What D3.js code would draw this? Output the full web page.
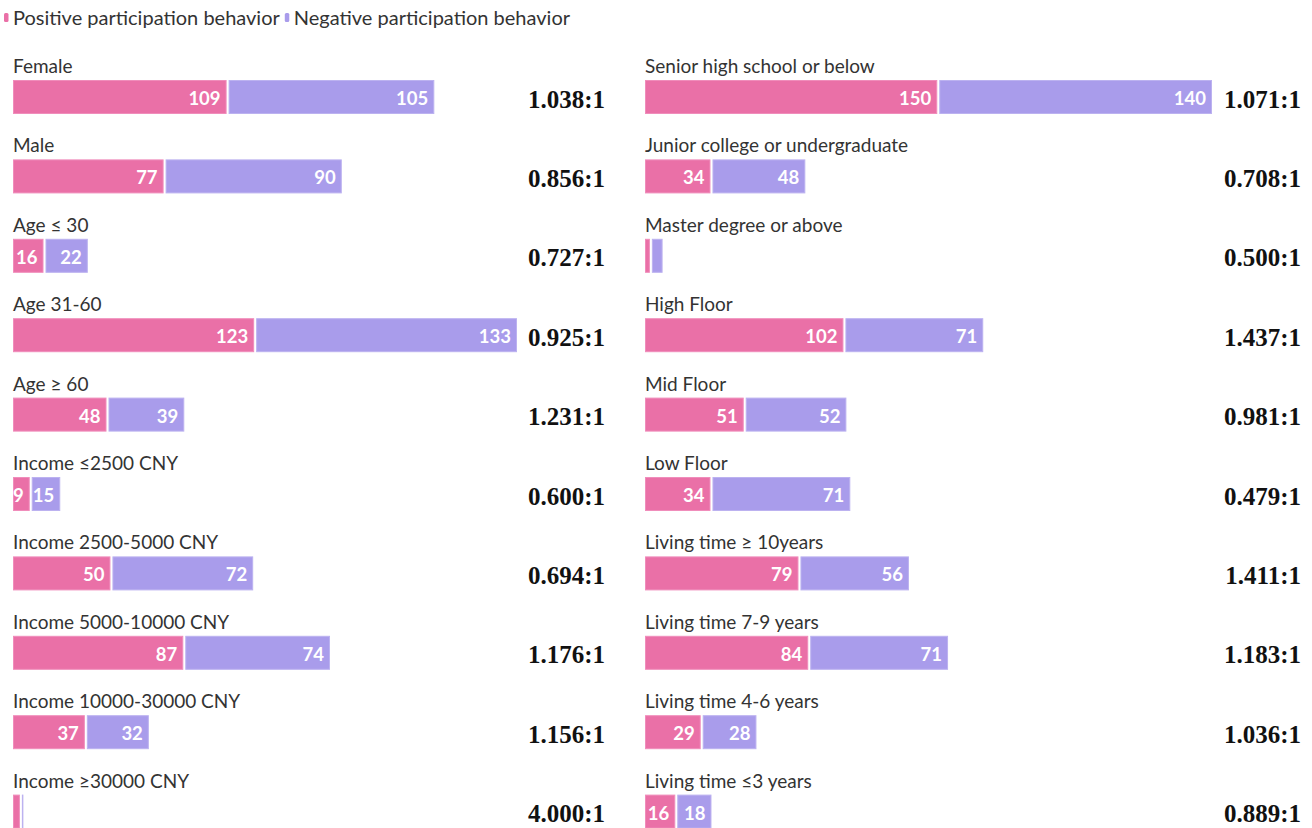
<!DOCTYPE html>
<html>
<head>
<meta charset="utf-8">
<script src="https://cdn.jsdelivr.net/npm/d3@7"></script>
<style>
  html, body { margin: 0; padding: 0; background: #fff; }
  svg { display: block; }
</style>
</head>
<body>
<svg id="chart" width="1312" height="828"></svg>
<script>
// ---- data ----
const seriesNames = ["Positive participation behavior", "Negative participation behavior"];

const leftCategories = ["Female", "Male", "Age ≤ 30", "Age 31-60", "Age ≥ 60",
  "Income ≤2500 CNY", "Income 2500-5000 CNY", "Income 5000-10000 CNY",
  "Income 10000-30000 CNY", "Income ≥30000 CNY"];
const leftPositive = [109, 77, 16, 123, 48, 9, 50, 87, 37, 4];
const leftNegative = [105, 90, 22, 133, 39, 15, 72, 74, 32, 1];

const rightCategories = ["Senior high school or below", "Junior college or undergraduate",
  "Master degree or above", "High Floor", "Mid Floor", "Low Floor",
  "Living time ≥ 10years", "Living time 7-9 years", "Living time 4-6 years",
  "Living time ≤3 years"];
const rightPositive = [150, 34, 3, 102, 51, 34, 79, 84, 29, 16];
const rightNegative = [140, 48, 6, 71, 52, 71, 56, 71, 28, 18];

// ---- styles ----
const colors = ["#EA70A7", "#A99CEB"];
const strokeColors = ["#F08DBB", "#BCB2F0"];
const labelFont = "Lato, 'Open Sans', sans-serif";
const ratioFont = "'Liberation Serif', 'Times New Roman', serif";
const labelSize = 19;

const svg = d3.select("#chart");

// legend
const legend = svg.append("g");
let lx = 4;
seriesNames.forEach((name, i) => {
  legend.append("rect").attr("x", lx).attr("y", 13).attr("width", 4.5).attr("height", 9)
    .attr("rx", 1.5).attr("fill", colors[i]);
  const t = legend.append("text").attr("x", lx + 9).attr("y", 25)
    .attr("font-family", labelFont).attr("font-size", 20).attr("fill", "#333")
    .text(name);
  lx += 9 + t.node().getComputedTextLength() + 5;
});

function panel(cats, pos, neg, xRange, xMax, ratioX) {
  const x = d3.scaleLinear().domain([0, xMax]).range(xRange);
  const y = d3.scaleBand().domain(cats).range([48, 48 + 79.4 * cats.length]).paddingInner(0);
  const rows = cats.map((c, i) => ({ c, p: pos[i], n: neg[i] }));
  const g = svg.append("g");
  const row = g.selectAll("g.row").data(rows).join("g").attr("class", "row");

  row.append("text")
    .attr("x", x(0)).attr("y", d => y(d.c) + 25)
    .attr("font-family", labelFont).attr("font-size", labelSize).attr("fill", "#333")
    .text(d => d.c);

  const barTop = d => y(d.c) + 32;
  const barH = 34;

  row.each(function(d) {
    const r = d3.select(this);
    const segs = [
      { v: d.p, x0: x(0), x1: x(d.p), k: 0 },
      { v: d.n, x0: x(d.p), x1: x(d.p + d.n), k: 1 }
    ];
    segs.forEach(s => {
      const left = s.x0 + (s.k === 1 ? 1 : 0);
      const right = s.x1 - (s.k === 0 ? 1 : 0);
      const w = Math.max(0.5, right - left);
      r.append("rect")
        .attr("x", left + 0.5).attr("y", barTop(d) + 0.5)
        .attr("width", Math.max(0.5, w - 1)).attr("height", barH - 1)
        .attr("fill", colors[s.k]).attr("stroke", strokeColors[s.k]).attr("stroke-width", 1);
      const t = r.append("text")
        .attr("x", right - 6).attr("y", barTop(d) + barH / 2 + 1)
        .attr("text-anchor", "end").attr("dominant-baseline", "central")
        .attr("font-family", labelFont).attr("font-weight", "bold").attr("font-size", 18.5)
        .attr("fill", "#fff").text(s.v);
      if (t.node().getComputedTextLength() + 5 > w) t.remove();
    });
  });

  row.append("text")
    .attr("x", ratioX).attr("y", d => barTop(d) + barH / 2 + 2)
    .attr("text-anchor", "end").attr("dominant-baseline", "central")
    .attr("font-family", ratioFont).attr("font-weight", "bold").attr("font-size", 25)
    .attr("fill", "#111")
    .text(d => (d.p / d.n).toFixed(3) + ":1");
}

panel(leftCategories, leftPositive, leftNegative, [13, 517], 256, 605);
panel(rightCategories, rightPositive, rightNegative, [645, 1212], 290, 1301);
</script>
</body>
</html>
